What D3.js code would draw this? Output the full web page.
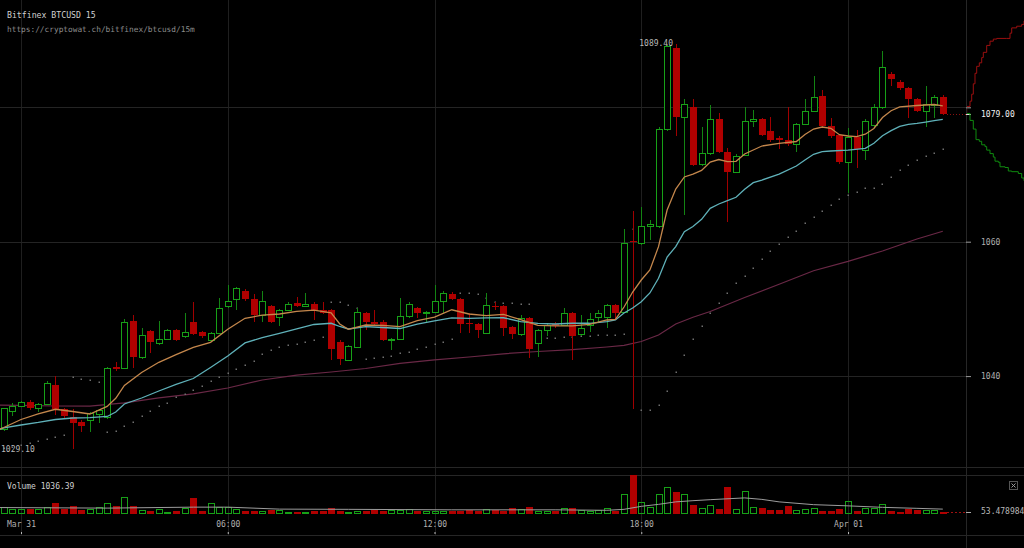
<!DOCTYPE html>
<html><head><meta charset="utf-8">
<script src="https://cdn.jsdelivr.net/npm/d3@7"></script>
<style>
html,body{margin:0;padding:0;background:#000;overflow:hidden}
svg{display:block}
text{font-family:"DejaVu Sans Mono",monospace}
</style></head><body>
<svg id="chart" width="1024" height="548"></svg>
<script>
// ---------------- data ----------------
const titleText = "Bitfinex BTCUSD 15";
const urlText = "https://cryptowat.ch/bitfinex/btcusd/15m";
const firstCandle = "2017-03-30T23:30:00Z";   // time of first candle in arrays
const intervalMinutes = 15;
const tickTimes = ["2017-03-31T00:00:00Z","2017-03-31T06:00:00Z","2017-03-31T12:00:00Z","2017-03-31T18:00:00Z","2017-04-01T00:00:00Z"];
const tickLabels = ["Mar 31","06:00","12:00","18:00","Apr 01"];
const priceTicks = [1040, 1060, 1080];

const openP = [1032.1,1034.8,1035.6,1036.1,1035.2,1035.9,1038.7,1035.1,1033.9,1033.2,
1033.5,1034.3,1033.9,1041.3,1041.2,1048.2,1042.8,1046.7,1044.9,1045.5,
1046.9,1045.9,1048.1,1046.5,1045.4,1046.4,1050.4,1051.4,1052.7,1051.5,
1049.1,1050.4,1048.8,1049.9,1050.9,1050.5,1050.8,1049.8,1049.8,1045.1,
1042.4,1044.4,1049.4,1048.1,1048.1,1045.4,1045.5,1048.9,1050.1,1049.4,
1049.6,1051.2,1052.2,1051.4,1047.9,1047.8,1046.4,1050.5,1050.4,1047.3,
1046.3,1048.6,1044.9,1046.8,1047.7,1047.6,1049.4,1046.3,1047.6,1048.8,
1048.8,1050.6,1049.6,1060.1,1059.8,1062.3,1062.3,1076.7,1088.9,1078.5,
1080.1,1071.5,1073.2,1078.3,1073.4,1070.4,1072.9,1077.9,1078.2,1076.4,
1075.5,1075.1,1074.6,1077.5,1079.5,1081.7,1077.2,1075.9,1071.9,1075.6,
1073.7,1077.3,1080.0,1085.0,1083.8,1082.8,1081.2,1079.5,1080.4,1081.6];
const highP = [1035.3,1036.0,1036.3,1036.4,1036.0,1039.2,1040.0,1035.2,1035.1,1033.5,
1034.7,1035.1,1041.4,1042.1,1048.5,1049.1,1047.1,1046.9,1048.2,1047.0,
1047.0,1049.4,1051.1,1046.7,1046.6,1051.6,1053.6,1053.3,1053.0,1052.2,
1052.7,1050.6,1050.0,1051.0,1051.8,1052.3,1051.0,1051.1,1050.0,1045.3,
1044.7,1050.1,1049.6,1049.8,1048.3,1045.7,1051.6,1051.0,1050.3,1049.7,
1053.6,1052.6,1052.5,1051.6,1049.4,1047.9,1052.4,1051.0,1050.6,1047.4,
1049.1,1048.8,1047.0,1047.8,1048.0,1050.1,1049.5,1049.1,1049.4,1049.9,
1050.8,1050.8,1061.9,1064.5,1065.1,1063.2,1077.0,1089.2,1089.4,1081.2,
1081.2,1077.1,1080.3,1079.1,1073.9,1073.0,1080.0,1079.6,1078.4,1078.5,
1075.7,1080.1,1077.7,1081.3,1084.7,1082.6,1078.4,1076.1,1076.9,1076.6,
1078.2,1080.5,1088.4,1085.2,1084.0,1083.0,1081.4,1083.1,1081.9,1081.8];
const lowP = [1031.9,1034.1,1035.5,1035.0,1034.7,1035.8,1034.2,1033.8,1029.1,1031.7,
1031.7,1033.0,1033.6,1040.7,1041.0,1041.2,1042.6,1043.5,1044.7,1045.3,
1045.2,1045.7,1046.1,1045.7,1045.2,1046.2,1050.2,1049.9,1051.2,1048.1,
1048.1,1047.9,1047.5,1049.8,1050.3,1050.4,1048.4,1049.2,1042.4,1041.7,
1042.2,1044.2,1046.9,1047.5,1045.2,1043.9,1045.3,1048.7,1048.6,1047.9,
1049.4,1049.4,1051.3,1046.4,1046.4,1045.6,1046.2,1049.8,1045.9,1045.5,
1046.0,1042.7,1042.9,1045.9,1047.2,1047.4,1042.4,1045.9,1046.6,1047.9,
1047.1,1048.4,1049.4,1035.1,1059.5,1060.3,1062.1,1076.5,1075.7,1064.0,
1071.2,1071.3,1072.9,1073.2,1063.0,1070.2,1072.7,1077.1,1075.7,1074.9,
1073.8,1074.3,1073.4,1077.3,1079.3,1077.0,1075.5,1071.5,1067.2,1071.0,
1072.1,1077.0,1079.8,1083.1,1082.6,1078.4,1079.3,1077.0,1078.4,1078.8];
const closeP = [1035.2,1035.5,1036.1,1035.2,1035.8,1039.0,1035.1,1034.0,1033.0,1032.6,
1034.5,1035.0,1041.2,1041.1,1048.1,1042.8,1046.1,1045.0,1045.5,1046.9,
1045.4,1046.6,1046.3,1045.9,1046.4,1050.1,1051.2,1053.1,1051.4,1049.1,
1051.2,1048.1,1049.8,1050.8,1050.4,1050.8,1049.8,1049.4,1044.0,1042.5,
1044.5,1049.5,1048.1,1047.7,1045.4,1045.5,1048.9,1050.8,1049.4,1049.5,
1051.2,1052.3,1051.5,1047.8,1047.7,1046.8,1050.6,1050.3,1047.1,1046.3,
1048.6,1044.0,1046.8,1047.6,1047.5,1049.4,1045.9,1047.1,1048.5,1049.4,
1050.6,1049.4,1059.8,1059.9,1062.3,1062.6,1076.7,1089.1,1078.6,1080.5,
1071.4,1073.2,1078.2,1073.4,1070.4,1072.8,1077.9,1078.2,1075.9,1075.1,
1075.1,1074.5,1077.5,1079.5,1081.5,1077.2,1075.8,1071.8,1075.6,1073.8,
1078.0,1080.0,1086.0,1084.2,1082.8,1081.2,1079.5,1080.5,1081.6,1079.0];
const volume = [170,116,116,116,116,170,277,116,205,98,
116,170,277,205,437,205,98,71,116,45,
71,143,420,71,277,170,170,116,71,71,
62,98,98,45,45,45,71,80,143,80,
45,62,62,98,71,89,89,116,71,80,
80,80,71,71,98,71,116,98,71,161,
116,170,71,71,62,143,143,89,71,89,
161,80,527,1036.39,304,179,527,705,571,527,
232,143,232,125,714,116,598,170,143,98,
98,205,98,116,143,71,80,125,330,80,
143,143,259,71,45,134,98,98,98,53.478984];
const sar = [1029.30,1029.52,1029.75,1030.00,1030.34,1030.60,1030.94,1031.23,1039.91,1039.61,
1039.35,1039.08,1031.64,1031.87,1032.50,1033.21,1034.06,1034.85,1035.48,1036.04,
1036.85,1037.34,1037.93,1038.57,1039.27,1039.82,1040.39,1041.01,1041.65,1042.29,
1043.29,1043.88,1044.33,1044.63,1044.78,1045.03,1045.37,1045.77,1051.07,1050.98,
1050.58,1050.09,1042.50,1042.69,1042.80,1042.99,1043.39,1043.63,1043.99,1044.37,
1044.78,1045.12,1045.52,1052.41,1052.41,1052.22,1051.62,1050.98,1050.91,1050.83,
1050.77,1050.73,1045.37,1045.62,1045.74,1045.82,1045.89,1045.97,1046.04,1046.09,
1046.12,1046.16,1046.26,1061.85,1034.96,1034.96,1035.70,1037.83,1040.57,1043.14,
1045.52,1047.50,1049.35,1050.83,1052.41,1053.81,1054.90,1056.13,1057.43,1058.62,
1059.66,1060.65,1061.64,1062.78,1063.68,1064.57,1065.46,1066.35,1066.95,1067.35,
1067.95,1067.99,1068.54,1069.63,1070.60,1071.41,1072.19,1072.72,1073.20,1073.75];

// moving averages; slot = number of 15m candles after Mar 31 00:00
const emaFastSlot = [-3,-2,0,2,4,6,8,10,11,12,14,16,18,20,22,24,26,28,30,32,34,36,37,38,40,42,44,46,48,50,52,54,56,58,60,62,64,66,68,69,70,71,72,73,74,75,76,77,78,79,80,81,82,83,84,86,88,90,91,92,93,94,95,96,97,98,99,100,101,102,104,106,107];
const emaFast = [1031.83,1032.35,1033.54,1034.36,1035.06,1034.73,1034.36,1035.48,1036.70,1038.60,1040.54,1042.05,1043.18,1044.26,1045.03,1046.98,1048.60,1049.06,1049.24,1049.64,1049.81,1049.42,1047.75,1046.96,1047.60,1047.56,1047.35,1048.27,1048.79,1049.87,1049.24,1048.99,1049.17,1048.42,1047.56,1047.46,1047.46,1047.68,1048.35,1048.45,1050.28,1052.51,1054.30,1055.79,1059.26,1064.72,1067.84,1069.63,1070.07,1070.60,1071.86,1072.23,1071.93,1071.96,1073.05,1074.24,1074.64,1074.91,1075.95,1076.77,1077.07,1076.88,1075.92,1075.73,1075.63,1076.00,1076.85,1078.48,1079.49,1080.07,1080.27,1080.42,1080.22];
const emaSlowSlot = [-3,-2,0,2,4,6,8,10,11,12,14,16,18,20,22,24,26,28,30,32,34,36,37,38,40,42,44,46,48,50,52,54,56,58,60,62,64,66,68,69,70,71,72,73,74,75,76,77,78,79,80,81,82,83,84,85,86,88,90,91,92,93,94,96,98,99,100,101,102,103,104,105,106,107];
const emaSlow = [1031.83,1032.28,1032.72,1033.10,1033.54,1033.76,1033.81,1033.99,1034.66,1035.85,1036.74,1037.78,1038.75,1039.64,1041.28,1042.99,1044.93,1045.74,1046.35,1047.01,1047.68,1047.86,1047.38,1047.01,1047.35,1047.23,1047.08,1047.75,1048.23,1048.65,1048.60,1048.65,1048.68,1048.12,1047.83,1047.75,1047.86,1047.86,1048.12,1048.35,1049.39,1050.13,1051.07,1052.37,1054.55,1057.72,1059.26,1061.49,1062.26,1063.33,1064.97,1065.61,1066.10,1066.61,1067.80,1068.78,1069.18,1070.07,1071.26,1072.16,1073.01,1073.39,1073.50,1073.62,1073.90,1074.64,1075.77,1076.52,1077.17,1077.47,1077.62,1077.81,1078.01,1078.21];
const emaLongSlot = [-3,0,4,8,12,16,20,24,28,32,36,40,44,48,52,56,60,64,68,70,72,74,76,78,80,84,88,92,96,100,104,107];
const emaLong = [1035.70,1035.65,1035.55,1035.52,1036.00,1036.77,1037.34,1038.23,1039.42,1040.13,1040.61,1041.13,1041.90,1042.40,1042.84,1043.32,1043.66,1043.94,1044.33,1044.58,1045.15,1046.12,1047.75,1048.75,1049.61,1051.70,1053.66,1055.68,1057.08,1058.62,1060.40,1061.56];
const volMaSlot = [-3,10,20,24,30,38,50,62,68,70,72,74,76,78,80,84,86,88,92,96,100,104,107];
const volMa = [161,145,171,171,118,112,99,99,86,112,193,246,313,345,372,420,380,313,238,206,166,139,118];

// order book depth (cumulative amount, price)
const askAmount = [0,0.7,4,5.7,7.3,9,10.7,13.3,15.7,17.3,20.7,24,27.3,30.7,40.7,44,45.7,50.7,55.7,58,64];
const askPrice = [1079.2,1080.13,1080.91,1081.95,1083.50,1085.06,1086.10,1086.62,1087.40,1088.18,1089.21,1089.84,1090.15,1090.25,1090.25,1091.03,1091.82,1092.07,1092.34,1092.86,1093.7];
const bidAmount = [0,0.7,4,7.3,10,13.3,15.7,19,20.7,24,27.3,29,32.3,34,39,42.3,45.7,52.3,55.7,58,64];
const bidPrice = [1079.0,1079.09,1078.05,1076.76,1075.19,1074.94,1074.42,1074.15,1073.63,1073.11,1072.59,1071.98,1071.82,1071.15,1071.04,1070.52,1070.42,1070.15,1069.48,1069.06,1068.44];

// ---------------- drawing ----------------
const W = 1024, H = 548;
const AX = 966;              // right axis line
const MAIN_BOT = 467, VOL_TOP = 475, VOL_BOT = 513.5, TIME_LINE = 535;
const GREEN = "#17a017", GREEN_W = "#138413", RED = "#b00000", RED_W = "#a00000";
const MIN = 60000;
const anchor = Date.parse(tickTimes[0]);
const t0 = Date.parse(firstCandle);
const slotTime = s => new Date(anchor + s * intervalMinutes * MIN);

const svg = d3.select("#chart");
svg.append("rect").attr("width", W).attr("height", H).attr("fill", "#000");

const x = d3.scaleTime()
  .domain([new Date(anchor - 36.56 * MIN), new Date(anchor + 1645.4 * MIN)])
  .range([0, AX]);
const y = d3.scaleLinear().domain([1026.47, 1095.97]).range([MAIN_BOT, 0]);
const yv = d3.scaleLinear().domain([0, d3.max(volume)]).range([VOL_BOT, VOL_TOP]);
const xd = d3.scaleLinear().domain([0, 58]).range([AX, W]);

const candles = openP.map((o, k) => ({
  t: new Date(t0 + k * intervalMinutes * MIN), o, h: highP[k], l: lowP[k], c: closeP[k],
  v: volume[k], s: sar[k], up: closeP[k] >= o
}));
const px = d => Math.round(x(d.t));

const defs = svg.append("defs");
defs.append("clipPath").attr("id", "mainClip").append("rect").attr("x", 0).attr("y", 0).attr("width", AX).attr("height", MAIN_BOT);
defs.append("clipPath").attr("id", "volClip").append("rect").attr("x", 0).attr("y", VOL_TOP - 2).attr("width", AX).attr("height", VOL_BOT - VOL_TOP + 3);
defs.append("clipPath").attr("id", "depthClip").append("rect").attr("x", AX + 1).attr("y", 0).attr("width", W - AX).attr("height", MAIN_BOT);

// grid
const grid = svg.append("g").attr("shape-rendering", "crispEdges");
const tickDates = tickTimes.map(d => new Date(d));
grid.selectAll(".vg").data(tickDates).join("line")
  .attr("x1", d => Math.round(x(d)) + 0.5).attr("x2", d => Math.round(x(d)) + 0.5)
  .attr("y1", 0).attr("y2", TIME_LINE).attr("stroke", "#1f1f1f");
grid.selectAll(".hg").data(priceTicks).join("line")
  .attr("x1", 0).attr("x2", AX).attr("y1", d => Math.round(y(d)) + 0.5).attr("y2", d => Math.round(y(d)) + 0.5)
  .attr("stroke", "#242424");
// pane borders
[MAIN_BOT, VOL_TOP - 0.5, TIME_LINE].forEach(v => grid.append("line")
  .attr("x1", 0).attr("x2", W).attr("y1", Math.round(v) + 0.5).attr("y2", Math.round(v) + 0.5).attr("stroke", "#262626"));
grid.append("line").attr("x1", AX + 0.5).attr("x2", AX + 0.5).attr("y1", 0).attr("y2", H).attr("stroke", "#262626");

// main pane
const main = svg.append("g").attr("clip-path", "url(#mainClip)");
const line = d3.line().x(d => x(d[0])).y(d => y(d[1]));
function drawMa(slots, vals, color, width) {
  main.append("path").datum(slots.map((s, k) => [slotTime(s), vals[k]]))
    .attr("d", line).attr("fill", "none").attr("stroke", color).attr("stroke-width", width);
}
drawMa(emaLongSlot, emaLong, "#6a2846", 1.2);

// SAR dots
main.append("g").selectAll("rect").data(candles).join("rect")
  .attr("x", d => px(d) - 0.5).attr("y", d => Math.round(y(d.s)) - 0.5)
  .attr("width", 1.5).attr("height", 1.5).attr("fill", "#6f6f6f");

// candles
const cg = main.append("g").attr("shape-rendering", "crispEdges");
cg.selectAll(".wick").data(candles).join("line")
  .attr("x1", d => px(d) + 0.5).attr("x2", d => px(d) + 0.5)
  .attr("y1", d => Math.round(y(d.h))).attr("y2", d => Math.round(y(d.l)))
  .attr("stroke", d => d.up ? GREEN_W : RED_W);
cg.selectAll(".body").data(candles).join("rect")
  .attr("x", d => d.up ? px(d) - 2.5 : px(d) - 3)
  .attr("width", d => d.up ? 6 : 7)
  .attr("y", d => { const t = Math.round(y(Math.max(d.o, d.c))); return d.up ? t + 0.5 : t; })
  .attr("height", d => Math.max(1, Math.round(y(Math.min(d.o, d.c))) - Math.round(y(Math.max(d.o, d.c)))))
  .attr("fill", d => d.up ? "#000" : RED)
  .attr("stroke", d => d.up ? GREEN : "none");

drawMa(emaSlowSlot, emaSlow, "#5fb1b9", 1.3);
drawMa(emaFastSlot, emaFast, "#c4874c", 1.3);

// last price line
const last = candles[candles.length - 1];
svg.append("line").attr("x1", px(last) + 4).attr("x2", AX).attr("y1", Math.round(y(last.c)) + 0.5).attr("y2", Math.round(y(last.c)) + 0.5)
  .attr("stroke", "#8a1010").attr("stroke-dasharray", "1,2");

// high / low labels
const hiIdx = d3.maxIndex(candles, d => d.h), loIdx = d3.minIndex(candles, d => d.l);
svg.append("text").attr("x", px(candles[hiIdx]) - 3).attr("y", y(candles[hiIdx].h) - 1).attr("dy", "0.32em")
  .attr("text-anchor", "end").attr("font-size", 8).attr("fill", "#b8b8b8").text(candles[hiIdx].h.toFixed(2));
svg.append("text").attr("x", 1).attr("y", y(candles[loIdx].l)).attr("dy", "0.32em")
  .attr("text-anchor", "start").attr("font-size", 8).attr("fill", "#b8b8b8").text(candles[loIdx].l.toFixed(2));

// header
svg.append("text").attr("x", 7).attr("y", 18).attr("font-size", 8.2).attr("fill", "#d0d0d0").text(titleText);
svg.append("text").attr("x", 7).attr("y", 32).attr("font-size", 7.8).attr("fill", "#8c8c8c").text(urlText);

// price axis
const lastY = y(last.c);
const pa = svg.append("g").attr("transform", `translate(${AX},0)`)
  .call(d3.axisRight(y).tickValues(priceTicks).tickSize(5).tickPadding(10).tickFormat(d3.format("d")));
pa.select(".domain").remove();
pa.selectAll(".tick line").attr("stroke", "#9a9a9a");
pa.selectAll(".tick text").attr("fill", "#b0b0b0").attr("font-size", 8).attr("font-family", "DejaVu Sans Mono")
  .attr("opacity", d => Math.abs(y(d) - lastY) < 10 ? 0 : 1);
svg.append("line").attr("x1", AX).attr("x2", AX + 5).attr("y1", Math.round(lastY) + 0.5).attr("y2", Math.round(lastY) + 0.5).attr("stroke", "#ddd");
svg.append("text").attr("x", AX + 15).attr("y", lastY).attr("dy", "0.32em").attr("font-size", 8).attr("fill", "#f2f2f2").text(last.c.toFixed(2));

// depth
const dg = svg.append("g").attr("clip-path", "url(#depthClip)");
const dline = d3.line().curve(d3.curveStepAfter).x(d => xd(d[0])).y(d => y(d[1]));
dg.append("path").datum(askAmount.map((a, k) => [a, askPrice[k]])).attr("d", dline)
  .attr("fill", "none").attr("stroke", "#9a0f0f").attr("stroke-width", 1);
dg.append("path").datum(bidAmount.map((a, k) => [a, bidPrice[k]])).attr("d", dline)
  .attr("fill", "none").attr("stroke", "#0f8a0f").attr("stroke-width", 1);

// volume pane
const vg = svg.append("g").attr("clip-path", "url(#volClip)").attr("shape-rendering", "crispEdges");
vg.selectAll("rect").data(candles).join("rect")
  .attr("x", d => d.up ? px(d) - 2.5 : px(d) - 3)
  .attr("width", d => d.up ? 6 : 7)
  .attr("y", d => d.up ? Math.round(yv(d.v)) + 0.5 : Math.round(yv(d.v)))
  .attr("height", d => Math.max(1, Math.round(VOL_BOT) - Math.round(yv(d.v)) - (d.up ? 1 : 0)))
  .attr("fill", d => d.up ? "none" : RED)
  .attr("stroke", d => d.up ? GREEN : "none");
svg.append("g").attr("clip-path", "url(#volClip)").append("path")
  .datum(volMaSlot.map((s, k) => [slotTime(s), volMa[k]]))
  .attr("d", d3.line().x(d => x(d[0])).y(d => yv(d[1])))
  .attr("fill", "none").attr("stroke", "#9c9c9c").attr("stroke-width", 1);
svg.append("line").attr("x1", px(last) + 4).attr("x2", AX).attr("y1", Math.round(yv(last.v)) + 0.5).attr("y2", Math.round(yv(last.v)) + 0.5)
  .attr("stroke", "#a01010").attr("stroke-dasharray", "2,2");
svg.append("text").attr("x", 7).attr("y", 489).attr("font-size", 8).attr("fill", "#cfcfcf").text("Volume " + d3.max(volume).toFixed(2));
svg.append("line").attr("x1", AX).attr("x2", AX + 5).attr("y1", Math.round(yv(last.v)) + 0.5).attr("y2", Math.round(yv(last.v)) + 0.5).attr("stroke", "#aaa");
svg.append("text").attr("x", AX + 15).attr("y", yv(last.v)).attr("dy", "0.32em").attr("font-size", 8).attr("fill", "#b8b8b8").text(String(last.v));
// close icon
const ic = svg.append("g").attr("shape-rendering", "crispEdges");
ic.append("rect").attr("x", 1009.5).attr("y", 481.5).attr("width", 8).attr("height", 8).attr("fill", "none").attr("stroke", "#555");
ic.append("path").attr("d", "M1011.5,483.5L1015.5,487.5M1015.5,483.5L1011.5,487.5").attr("stroke", "#999").attr("shape-rendering", "auto");

// time axis
const ta = svg.append("g").attr("transform", `translate(0,${TIME_LINE - 3})`)
  .call(d3.axisBottom(x).tickValues(tickDates).tickSize(2).tickPadding(0).tickFormat((d, k) => tickLabels[k]));
ta.select(".domain").remove();
ta.selectAll(".tick line").attr("stroke", "#bbb");
ta.selectAll(".tick text").attr("fill", "#b0b0b0").attr("font-size", 8).attr("font-family", "DejaVu Sans Mono")
  .attr("y", -8).attr("dy", "0.32em");
</script>
</body></html>
